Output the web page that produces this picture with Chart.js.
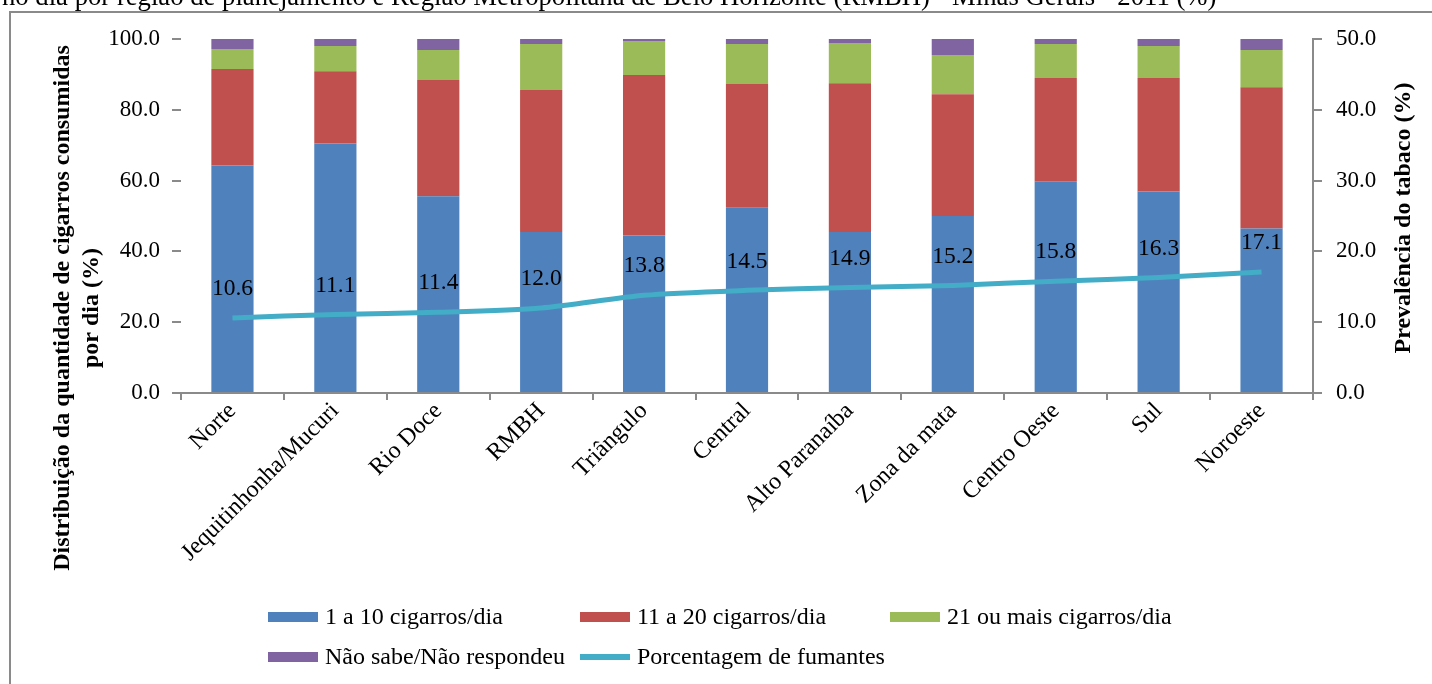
<!DOCTYPE html>
<html lang="pt-BR">
<head>
<meta charset="utf-8">
<title>Cigarros consumidos por dia por região de planejamento - Minas Gerais 2011</title>
<script src="https://cdn.jsdelivr.net/npm/chart.js@4.4.1/dist/chart.umd.min.js"></script>
<style>
  html, body { margin: 0; padding: 0; background: #ffffff; }
  #wrap { position: relative; width: 1432px; height: 684px; overflow: hidden; }
  canvas { display: block; }
</style>
</head>
<body>
<div id="wrap"><canvas id="grafico" width="1432" height="684"></canvas></div>
<script>
// Regiões de planejamento de Minas Gerais + RMBH
const categorias = [
  'Norte', 'Jequitinhonha/Mucuri', 'Rio Doce', 'RMBH', 'Triângulo', 'Central',
  'Alto Paranaíba', 'Zona da mata', 'Centro Oeste', 'Sul', 'Noroeste'
];

// Distribuição da quantidade de cigarros consumidos por dia (%)
const ate10 =       [64.3, 70.5, 55.6, 45.5, 44.5, 52.3, 45.5, 50.0, 59.8, 56.9, 46.5];
const de11a20 =     [27.2, 20.4, 32.8, 40.1, 45.3, 35.0, 42.0, 34.4, 29.2, 32.1, 39.9];
const mais21 =      [ 5.7,  7.1,  8.5, 13.0,  9.6, 11.3, 11.4, 11.1,  9.6,  9.0, 10.5];
const naoSabe =     [ 2.8,  2.0,  3.1,  1.4,  0.6,  1.4,  1.1,  4.5,  1.4,  2.0,  3.1];

// Prevalência do tabaco (%)
const prevalencia = [10.6, 11.1, 11.4, 12.0, 13.8, 14.5, 14.9, 15.2, 15.8, 16.3, 17.1];

// Eixos
const ticksDistribuicao = [0, 20, 40, 60, 80, 100];
const ticksPrevalencia = [0, 10, 20, 30, 40, 50];

const tituloTopo = 'no dia por região de planejamento e Região Metropolitana de Belo Horizonte (RMBH) - Minas Gerais - 2011 (%)';
const tituloEsq = ['Distribuição da quantidade de cigarros consumidas', 'por dia (%)'];
const tituloDir = 'Prevalência do tabaco (%)';

const SERIF = '"Liberation Serif", "Times New Roman", serif';
const CINZA = '#8a8a8a';

// Moldura, títulos, rótulos da linha e legenda
const decoracao = {
  id: 'decoracao',
  beforeDraw(chart) {
    const ctx = chart.ctx;
    ctx.save();
    ctx.strokeStyle = CINZA;
    ctx.lineWidth = 2;
    ctx.strokeRect(10, 12, 1500, 800);
    ctx.fillStyle = '#000';
    ctx.font = '26.7px ' + SERIF;
    ctx.textBaseline = 'alphabetic';
    ctx.textAlign = 'left';
    ctx.fillText(tituloTopo, 2, 5);
    ctx.restore();
  },
  afterDatasetsDraw(chart) {
    const ctx = chart.ctx;
    ctx.save();
    // valores da prevalência acima da linha
    const meta = chart.getDatasetMeta(4);
    ctx.font = '23.5px ' + SERIF;
    ctx.fillStyle = '#000';
    ctx.textAlign = 'center';
    ctx.textBaseline = 'middle';
    meta.data.forEach((pt, i) => {
      ctx.fillText(prevalencia[i].toFixed(1), pt.x, pt.y - 29);
    });
    ctx.restore();
  },
  afterDraw(chart) {
    const ctx = chart.ctx;
    ctx.save();
    ctx.fillStyle = '#000';
    ctx.font = 'bold 24px ' + SERIF;
    ctx.textAlign = 'center';
    ctx.textBaseline = 'middle';
    // título do eixo esquerdo (duas linhas)
    ctx.save();
    ctx.translate(63, 308);
    ctx.rotate(-Math.PI / 2);
    ctx.fillText(tituloEsq[0], 0, 0);
    ctx.fillText(tituloEsq[1], 0, 29);
    ctx.restore();
    // título do eixo direito
    ctx.save();
    ctx.translate(1404, 218);
    ctx.rotate(-Math.PI / 2);
    ctx.fillText(tituloDir, 0, 0);
    ctx.restore();

    // legenda
    const ds = chart.data.datasets;
    const itens = [
      { i: 0, x: 268, y: 617 },
      { i: 1, x: 580, y: 617 },
      { i: 2, x: 890, y: 617 },
      { i: 3, x: 268, y: 657 },
      { i: 4, x: 580, y: 657 }
    ];
    ctx.font = '24px ' + SERIF;
    ctx.textAlign = 'left';
    ctx.textBaseline = 'middle';
    itens.forEach(it => {
      const d = ds[it.i];
      const cor = d.type === 'line' ? d.borderColor : d.backgroundColor;
      ctx.fillStyle = cor;
      if (d.type === 'line') {
        ctx.fillRect(it.x, it.y - 3, 50, 6);
      } else {
        ctx.fillRect(it.x, it.y - 5, 50, 10);
      }
      ctx.fillStyle = '#000';
      ctx.fillText(d.label, it.x + 57, it.y + 1);
    });
    ctx.restore();
  }
};

const barra = (label, data, cor) => ({
  type: 'bar', label, data, backgroundColor: cor, borderWidth: 0,
  yAxisID: 'y', stack: 'dist', order: 2,
  barPercentage: 0.41, categoryPercentage: 1.0
});

new Chart(document.getElementById('grafico'), {
  data: {
    labels: categorias,
    datasets: [
      barra('1 a 10 cigarros/dia', ate10, '#4F81BD'),
      barra('11 a 20 cigarros/dia', de11a20, '#C0504D'),
      barra('21 ou mais cigarros/dia', mais21, '#9BBB59'),
      barra('Não sabe/Não respondeu', naoSabe, '#8064A2'),
      {
        type: 'line', label: 'Porcentagem de fumantes', data: prevalencia,
        borderColor: '#43ACC6', backgroundColor: '#43ACC6', borderWidth: 5,
        pointRadius: 0, tension: 0.25, yAxisID: 'y2', order: 0,
        borderCapStyle: 'butt'
      }
    ]
  },
  options: {
    responsive: false,
    devicePixelRatio: 1,
    animation: false,
    layout: { padding: { top: 39, left: 0, right: 0, bottom: 0 } },
    plugins: {
      legend: { display: false },
      tooltip: { enabled: false },
      title: { display: false }
    },
    scales: {
      x: {
        stacked: true,
        offset: true,
        grid: { offset: true, drawOnChartArea: false, tickLength: 7, color: CINZA, lineWidth: 2 },
        border: { color: CINZA, width: 2 },
        ticks: {
          color: '#000', font: { family: SERIF, size: 24 },
          maxRotation: 45, minRotation: 45, autoSkip: false, padding: -3
        },
        afterFit(s) { s.height = 684 - 393; }
      },
      y: {
        stacked: true, position: 'left', min: 0, max: 100,
        afterBuildTicks(s) { s.ticks = ticksDistribuicao.map(v => ({ value: v })); },
        grid: { drawOnChartArea: false, tickLength: 9, color: CINZA, lineWidth: 2 },
        border: { display: false },
        ticks: {
          color: '#000', font: { family: SERIF, size: 23 }, padding: 12,
          callback: v => Number(v).toFixed(1)
        },
        afterFit(s) { s.width = 181; }
      },
      y2: {
        position: 'right', min: 0, max: 50,
        afterBuildTicks(s) { s.ticks = ticksPrevalencia.map(v => ({ value: v })); },
        grid: { drawOnChartArea: false, tickLength: 9, color: CINZA, lineWidth: 2 },
        border: { color: CINZA, width: 2 },
        ticks: {
          color: '#000', font: { family: SERIF, size: 23 }, padding: 14,
          callback: v => Number(v).toFixed(1)
        },
        afterFit(s) { s.width = 1432 - 1313; }
      }
    }
  },
  plugins: [decoracao]
});
</script>
</body>
</html>
